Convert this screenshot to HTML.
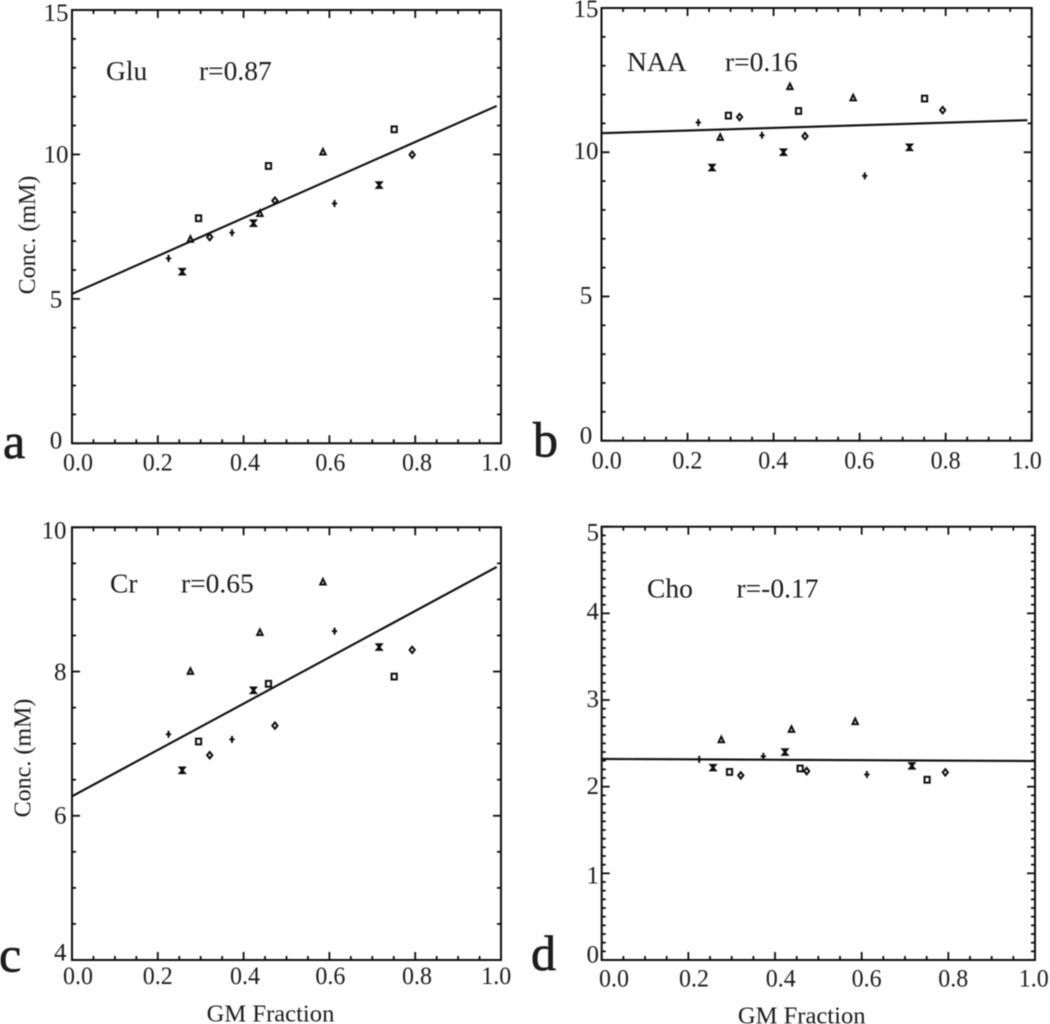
<!DOCTYPE html>
<html lang="en">
<head>
<meta charset="utf-8">
<title>Metabolite concentration vs GM fraction</title>
<style>
html,body{margin:0;padding:0;background:#fff;width:1050px;height:1024px;overflow:hidden}
svg{display:block}
text{font-family:"Liberation Serif",serif;fill:#1c1c1c}
</style>
</head>
<body>
<svg id="figure" xmlns="http://www.w3.org/2000/svg" width="1050" height="1024" viewBox="0 0 1050 1024">
<defs><filter id="soft" x="-2%" y="-2%" width="104%" height="104%"><feGaussianBlur stdDeviation="0.4"/></filter></defs>
<g id="root" filter="url(#soft)"></g>
</svg>
<script>
// ---- data ----
const gmPlus = [0.225, 0.373, 0.612];
const gmStar = [0.257, 0.423, 0.716];
const gmTriangle = [0.276, 0.438, 0.585];
const gmSquare = [0.295, 0.458, 0.751];
const gmDiamond = [0.321, 0.473, 0.793];

const gluPlus = [6.40, 7.29, 8.30];
const gluStar = [5.94, 7.62, 8.94];
const gluTriangle = [7.06, 7.95, 10.08];
const gluSquare = [7.79, 9.60, 10.87];
const gluDiamond = [7.14, 8.40, 9.99];
const gluFitX = [0, 0.99];
const gluFitY = [5.17, 11.68];
const gluTicks = [0, 5, 10, 15];
const gluTickLabels = ["0", "5", "10", "15"];

const naaPlus = [11.03, 10.59, 9.18];
const naaStar = [9.47, 10.00, 10.17];
const naaTriangle = [10.51, 12.27, 11.88];
const naaSquare = [11.27, 11.43, 11.86];
const naaDiamond = [11.22, 10.56, 11.46];
const naaFitX = [0, 0.99];
const naaFitY = [10.66, 11.11];
const naaTicks = [0, 5, 10, 15];
const naaTickLabels = ["0", "5", "10", "15"];

const crPlus = [7.13, 7.06, 8.56];
const crStar = [6.63, 7.74, 8.34];
const crTriangle = [8.00, 8.54, 9.24];
const crSquare = [7.03, 7.83, 7.93];
const crDiamond = [6.84, 7.25, 8.30];
const crFitX = [0, 0.99];
const crFitY = [6.27, 9.45];
const crTicks = [4, 6, 8, 10];
const crTickLabels = ["4", "6", "8", "10"];

const choPlus = [2.315, 2.35, 2.14];
const choStar = [2.22, 2.40, 2.24];
const choTriangle = [2.54, 2.66, 2.75];
const choSquare = [2.17, 2.21, 2.08];
const choDiamond = [2.13, 2.18, 2.165];
const choFitX = [0, 1];
const choFitY = [2.32, 2.296];
const choTicks = [0, 1, 2, 3, 4, 5];
const choTickLabels = ["0", "1", "2", "3", "4", "5"];

const xTicks = [0, 0.2, 0.4, 0.6, 0.8, 1.0];
const xTickLabels = ["0.0", "0.2", "0.4", "0.6", "0.8", "1.0"];
const xMinorStep = 0.05;

// ---- layout ----
const NS = "http://www.w3.org/2000/svg";
const root = document.getElementById("root");
const INK = "#111";

function mk(tag, attrs, parent, txt) {
  const el = document.createElementNS(NS, tag);
  for (const k in attrs) el.setAttribute(k, attrs[k]);
  if (txt !== undefined) el.textContent = txt;
  parent.appendChild(el);
  return el;
}

function drawPanel(p) {
  const g = mk("g", {}, root);
  
  
  const sx = v => p.left + v * (p.right - p.left);
  const sy = v => p.bottom - (v - p.yMin) / (p.yMax - p.yMin) * (p.bottom - p.top);

  // frame
  const frame = mk("rect", {x: p.left, y: p.top, width: p.right - p.left, height: p.bottom - p.top, fill: "none", stroke: INK, "stroke-width": 2}, g);
  
  

  // ticks
  const ticks = mk("g", {stroke: INK, "stroke-width": 1.8, fill: "none"}, g);
  
  
  const majLen = 8, minLen = 4;
  const xCount = Math.round(1 / xMinorStep);
  for (let i = 0; i <= xCount; i++) {
    const v = i * xMinorStep;
    const l = i % 4 === 0 ? majLen : minLen;
    const x = sx(v);
    mk("line", {x1: x, x2: x, y1: p.bottom, y2: p.bottom - l}, ticks);
    mk("line", {x1: x, x2: x, y1: p.top, y2: p.top + l}, ticks);
  }
  const yCount = Math.round((p.yMax - p.yMin) / p.yMinorStep);
  for (let i = 0; i <= yCount; i++) {
    const v = p.yMin + i * p.yMinorStep;
    const major = p.ticks.some(t => Math.abs(t - v) < 1e-6);
    const l = major ? majLen : minLen;
    const y = sy(v);
    mk("line", {x1: p.left, x2: p.left + l, y1: y, y2: y}, ticks);
    mk("line", {x1: p.right, x2: p.right - l, y1: y, y2: y}, ticks);
  }

  // x tick labels
  xTicks.forEach((t, i) => {
    const el = mk("text", {x: sx(t) + p.xLabelShift[i], y: p.xLabelY, "font-size": 25, "text-anchor": "middle", textLength: 30, lengthAdjust: "spacingAndGlyphs"}, g, xTickLabels[i]);
    
    
  });
  // y tick labels
  p.ticks.forEach((t, i) => {
    const el = mk("text", {x: p.yLabelX, y: sy(t) + p.yLabelShift[i], "font-size": 25, "text-anchor": p.yLabelAnchor}, g, p.tickLabels[i]);
    
    
  });

  // fit line
  const fit = mk("line", {x1: sx(p.fitX[0]), y1: sy(p.fitY[0]), x2: sx(p.fitX[1]), y2: sy(p.fitY[1]), stroke: INK, "stroke-width": 2.1}, g);
  
  

  // markers
  const sw = 2;
  gmPlus.forEach((v, i) => {
    const x = sx(v), y = sy(p.plus[i]);
    const m = mk("path", {d: `M${x-2.6} ${y}H${x+2.6}M${x} ${y-3.5}V${y+3.5}`, stroke: INK, "stroke-width": sw, fill: "none"}, g);
    
    
  });
  gmStar.forEach((v, i) => {
    const x = sx(v), y = sy(p.star[i]);
    const m = mk("path", {d: `M${x-2.4} ${y-2.8}H${x+2.4}L${x-2.4} ${y+2.8}H${x+2.4}Z`, stroke: INK, "stroke-width": sw, fill: INK}, g);
    
    
  });
  gmTriangle.forEach((v, i) => {
    const x = sx(v), y = sy(p.triangle[i]);
    const m = mk("path", {d: `M${x} ${y-3.2}L${x+2.7} ${y+2.4}H${x-2.7}Z`, stroke: INK, "stroke-width": sw, fill: "none"}, g);
    
    
  });
  gmSquare.forEach((v, i) => {
    const x = sx(v), y = sy(p.square[i]);
    const m = mk("rect", {x: x - 2.6, y: y - 2.9, width: 5.2, height: 5.8, stroke: INK, "stroke-width": sw, fill: "none"}, g);
    
    
  });
  gmDiamond.forEach((v, i) => {
    const x = sx(v), y = sy(p.diamond[i]);
    const m = mk("path", {d: `M${x} ${y-3.2}L${x+2.6} ${y}L${x} ${y+3.2}L${x-2.6} ${y}Z`, stroke: INK, "stroke-width": sw, fill: "none"}, g);
    
    
  });

  // annotations
  const nm = mk("text", {x: p.nameX, y: p.annotY, "font-size": 27.5}, g, p.name);
  
  
  const rv = mk("text", {x: p.rX, y: p.annotY, "font-size": 27.5}, g, p.rText);
  
  

  // panel letter
  const lt = mk("text", {x: p.letterX, y: p.letterY, "font-size": 50, stroke: "#1c1c1c", "stroke-width": 0.7}, g, p.letter);
  
  

  // axis titles
  if (p.yTitle) {
    const yt = mk("text", {x: 0, y: 0, "font-size": 24, "text-anchor": "middle", transform: `translate(${p.yTitleX} ${p.yTitleY}) rotate(-90)`}, g, p.yTitle);
    
    
  }
  if (p.xTitle) {
    const xt = mk("text", {x: p.xTitleX, y: p.xTitleY, "font-size": 24.6, "text-anchor": "middle"}, g, p.xTitle);
    
    
  }
}

drawPanel({key: "glu", name: "Glu", rText: "r=0.87", letter: "a",
  left: 72, right: 501, top: 10, bottom: 443.3, yMin: 0, yMax: 15, yMinorStep: 1,
  ticks: gluTicks, tickLabels: gluTickLabels, fitX: gluFitX, fitY: gluFitY,
  plus: gluPlus, star: gluStar, triangle: gluTriangle, square: gluSquare, diamond: gluDiamond,
  xLabelY: 470.7, xLabelShift: [6, 0, 1.4, 1, 1.8, -4.7],
  yLabelX: 56, yLabelAnchor: "middle", yLabelShift: [5, 8.4, 8, 11],
  nameX: 106, rX: 199, annotY: 80, letterX: 3, letterY: 458,
  yTitle: "Conc. (mM)", yTitleX: 35, yTitleY: 235});

drawPanel({key: "naa", name: "NAA", rText: "r=0.16", letter: "b",
  left: 601.5, right: 1031.7, top: 8, bottom: 440.7, yMin: 0, yMax: 15, yMinorStep: 1,
  ticks: naaTicks, tickLabels: naaTickLabels, fitX: naaFitX, fitY: naaFitY,
  plus: naaPlus, star: naaStar, triangle: naaTriangle, square: naaSquare, diamond: naaDiamond,
  xLabelY: 468.3, xLabelShift: [5.2, -0.2, -0.3, -0.4, 0, -5],
  yLabelX: 586, yLabelAnchor: "middle", yLabelShift: [2.7, 7, 7, 9],
  nameX: 627, rX: 725, annotY: 71, letterX: 533, letterY: 456.7});

drawPanel({key: "cr", name: "Cr", rText: "r=0.65", letter: "c",
  left: 72, right: 501, top: 527.3, bottom: 960, yMin: 4, yMax: 10, yMinorStep: 0.5,
  ticks: crTicks, tickLabels: crTickLabels, fitX: crFitX, fitY: crFitY,
  plus: crPlus, star: crStar, triangle: crTriangle, square: crSquare, diamond: crDiamond,
  xLabelY: 984, xLabelShift: [6, 0, 1.4, 1, 1.8, -4.7],
  yLabelX: 66.5, yLabelAnchor: "end", yLabelShift: [0.7, 7.5, 8.3, 11],
  nameX: 110, rX: 181, annotY: 592.7, letterX: -1, letterY: 971.7,
  yTitle: "Conc. (mM)", yTitleX: 30.5, yTitleY: 758, xTitle: "GM Fraction", xTitleX: 270.5, xTitleY: 1021.7});

drawPanel({key: "cho", name: "Cho", rText: "r=-0.17", letter: "d",
  left: 601.7, right: 1035, top: 526.7, bottom: 960, yMin: 0, yMax: 5, yMinorStep: 0.1,
  ticks: choTicks, tickLabels: choTickLabels, fitX: choFitX, fitY: choFitY,
  plus: choPlus, star: choStar, triangle: choTriangle, square: choSquare, diamond: choDiamond,
  xLabelY: 986.7, xLabelShift: [12.3, 5.6, 5.7, 5, 4.9, -1.3],
  yLabelX: 599, yLabelAnchor: "end", yLabelShift: [2.7, 10, 7.3, 7, 6, 14],
  nameX: 647, rX: 736.5, annotY: 597.3, letterX: 531, letterY: 970,
  xTitle: "GM Fraction", xTitleX: 801.7, xTitleY: 1023.3});
</script>
</body>
</html>
